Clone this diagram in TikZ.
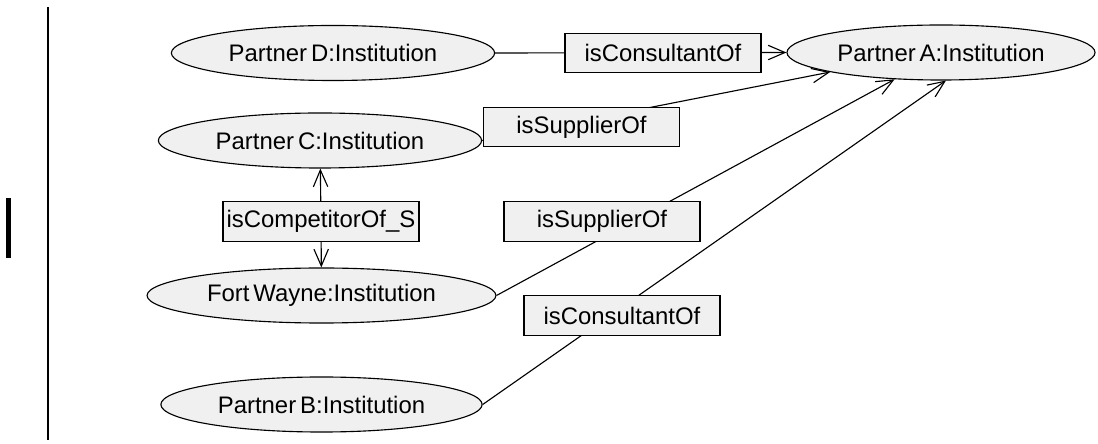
\documentclass[tikz,border=0pt]{standalone}
\usepackage{fontspec}
\setmainfont{Liberation Sans}
\usepackage{tikz}
\usetikzlibrary{arrows.meta,shapes.geometric}
\definecolor{ink}{HTML}{000000}
\definecolor{shade}{HTML}{F0F0F0}
\tikzset{
  instnode/.style={ellipse,draw=ink,fill=shade,line width=0.8pt,
                   minimum height=1.375cm,inner sep=0pt,
                   font=\fontsize{17}{20}\selectfont},
  relbox/.style={rectangle,draw=ink,fill=shade,line width=0.8pt,
                 minimum width=4.9cm,minimum height=0.98cm,inner sep=0pt,
                 font=\fontsize{17}{20}\selectfont},
  relarr/.style={-{Straight Barb[length=4.2mm,width=3.6mm]},line width=0.8pt,color=ink}
}

\begin{document}
\begin{tikzpicture}[x=0.025cm,y=-0.025cm]
  \useasboundingbox (0,0) rectangle (1098,444);

  % margin rules
  \draw[ink,line width=1.4pt] (48,7) -- (48,440);
  \draw[ink,line width=3.6pt] (8.5,198) -- (8.5,258);

  \node[instnode,minimum width=7.7cm] (pa) at (941,52.5) {Partner\,A:Institution};
  \node[instnode,minimum width=8.08cm] (pd) at (333,53) {Partner\,D:Institution};
  \node[instnode,minimum width=8.08cm] (pc) at (320,140.5) {Partner\,C:Institution};
  \node[instnode,minimum width=8.72cm] (fw) at (321.5,295.5) {Fort\,Wayne:Institution};
  \node[instnode,minimum width=8.03cm] (pb) at (321.5,404.5) {Partner\,B:Institution};

  \draw[relarr] (pd.east) -- (pa.west);
  \draw[relarr] (pc.east) -- (pa.190);
  \draw[relarr] (fw.east) -- (pa.210);
  \draw[relarr] (pb.east) -- (pa.280);

  \node[relbox] (cons1) at (663,53) {isConsultantOf};
  \node[relbox] (sup1) at (581.5,127) {isSupplierOf};
  \node[relbox] (comp) at (321,221.5) {isCompetitorOf\_S};
  \node[relbox] (sup2) at (602,221.5) {isSupplierOf};
  \node[relbox] (cons2) at (622,315.5) {isConsultantOf};

  \draw[relarr] (comp) -- (pc);
  \draw[relarr] (comp) -- (fw);
\end{tikzpicture}
\end{document}
